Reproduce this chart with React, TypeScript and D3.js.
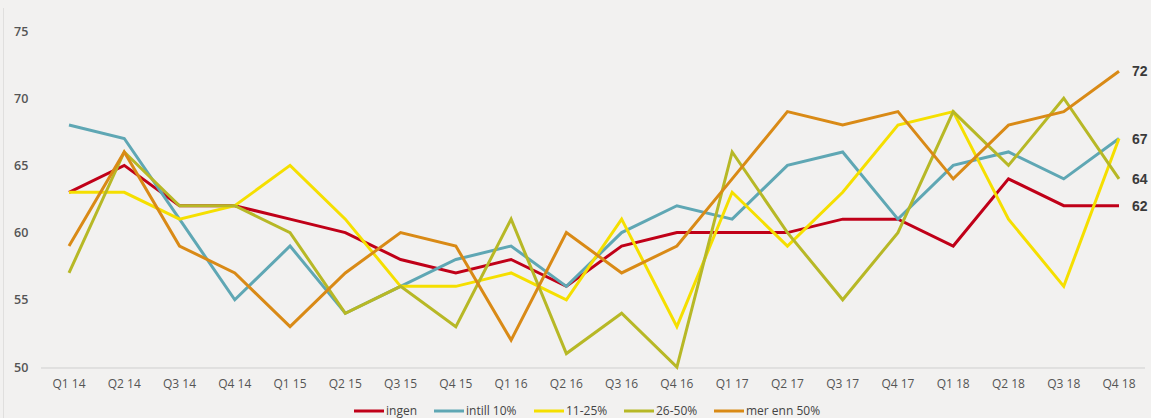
import React from "react";
import * as d3 from "d3";

const categories = ["Q1 14","Q2 14","Q3 14","Q4 14","Q1 15","Q2 15","Q3 15","Q4 15","Q1 16","Q2 16","Q3 16","Q4 16","Q1 17","Q2 17","Q3 17","Q4 17","Q1 18","Q2 18","Q3 18","Q4 18"];
const ingen = [63,65,62,62,61,60,58,57,58,56,59,60,60,60,61,61,59,64,62,62];
const intill10 = [68,67,61,55,59,54,56,58,59,56,60,62,61,65,66,61,65,66,64,67];
const p11_25 = [63,63,61,62,65,61,56,56,57,55,61,53,63,59,63,68,69,61,56,67];
const p26_50 = [57,66,62,62,60,54,56,53,61,51,54,50,66,60,55,60,69,65,70,64];
const merEnn50 = [59,66,59,57,53,57,60,59,52,60,57,59,64,69,68,69,64,68,69,72];
const yTicks = [50,55,60,65,70,75];

const series = [
  { name: "ingen", values: ingen, color: "#c00018" },
  { name: "intill 10%", values: intill10, color: "#5fa7b4" },
  { name: "11-25%", values: p11_25, color: "#f5df00" },
  { name: "26-50%", values: p26_50, color: "#b7b826" },
  { name: "mer enn 50%", values: merEnn50, color: "#d98a16" },
];

export default function App() {
  const W = 1151, H = 418;
  const x = d3.scalePoint<string>().domain(categories).range([69, 1119]);
  const y = d3.scaleLinear().domain([50, 75]).range([367, 31]);
  const line = d3.line<number>().x((_, i) => x(categories[i])!).y(d => y(d));
  const font = "'Open Sans', 'DejaVu Sans', sans-serif";
  const legendX = [354, 434, 534, 624, 714];
  return (
    <svg width={W} height={H} style={{ position: "absolute", left: 0, top: 0, background: "#f2f1f0" }} fontFamily={font}>
      <rect x={0} y={0} width={W} height={H} fill="#f2f1f0" />
      <line x1={3.5} x2={3.5} y1={8} y2={H} stroke="#e0dfde" />
      <line x1={41} x2={1145} y1={y(50) + 1} y2={y(50) + 1} stroke="#cfcfcf" strokeWidth={1} />
      {yTicks.map(t => (
        <text key={t} x={14} y={y(t) + 4.5} fontSize={12.5} fill="#555" fontWeight={600}>{t}</text>
      ))}
      {categories.map(c => (
        <text key={c} x={x(c)} y={388} fontSize={12} fill="#555" textAnchor="middle">{c}</text>
      ))}
      {series.map(s => (
        <path key={s.name} d={line(s.values)!} fill="none" stroke={s.color} strokeWidth={3} />
      ))}
      {series.filter((_, i) => i !== 2).map(s => (
        <text key={s.name} x={1132} y={y(s.values[s.values.length - 1]) + 5} fontSize={14} fontWeight={700} fill="#3a3a3a" fontFamily="'Liberation Sans', Arial, sans-serif">
          {s.values[s.values.length - 1]}
        </text>
      ))}
      {series.map((s, i) => (
        <g key={s.name}>
          <line x1={legendX[i]} x2={legendX[i] + 30} y1={411} y2={411} stroke={s.color} strokeWidth={3} />
          <text x={legendX[i] + 32} y={415} fontSize={12} fill="#444">{s.name}</text>
        </g>
      ))}
    </svg>
  );
}
